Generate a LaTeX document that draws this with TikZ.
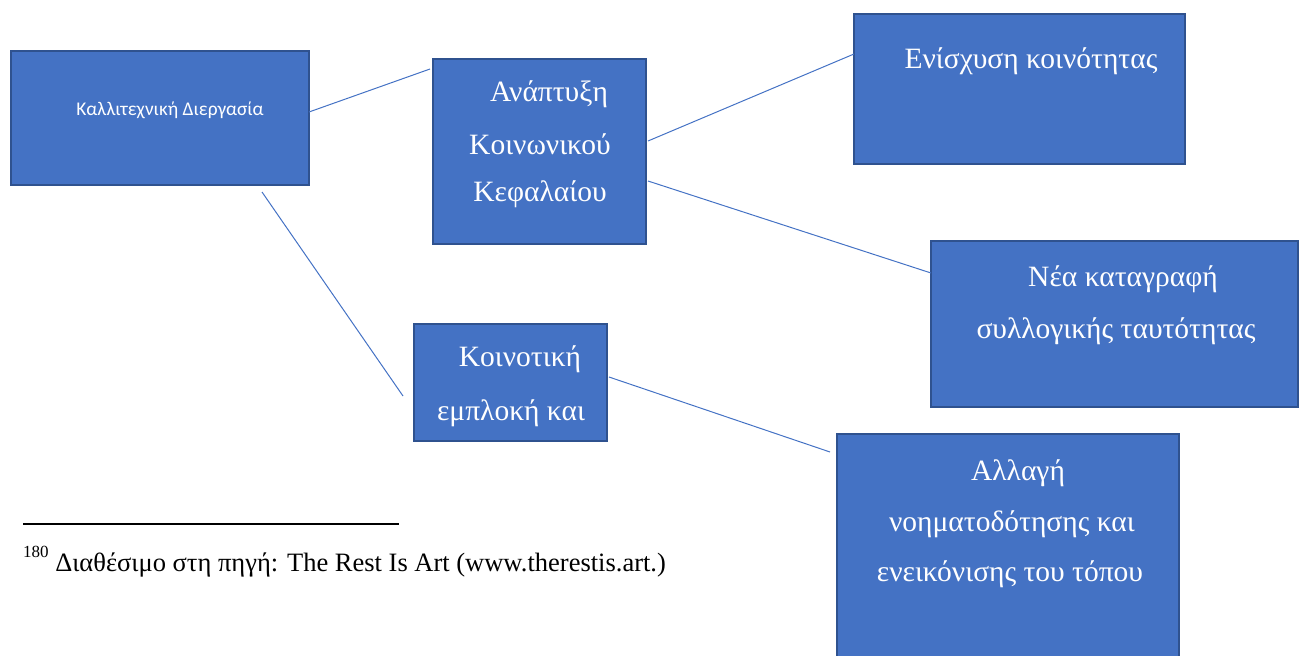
\documentclass[tikz,border=0pt]{standalone}
\usepackage{fontspec}
\setmainfont{Liberation Serif}
\newfontfamily\calfont{Carlito}
\definecolor{boxfill}{HTML}{4472C4}
\definecolor{boxline}{HTML}{2F528F}
\begin{document}
\begin{tikzpicture}[x=1pt,y=-1pt,
  box/.style={draw=boxline,line width=2pt,fill=boxfill,inner sep=0pt,outer sep=0pt},
  lbl/.style={text=white,inner sep=0pt,font=\fontsize{29.5}{34}\selectfont},
  conn/.style={draw=boxfill,line width=1pt}]
\useasboundingbox (0,0) rectangle (1299,656);
% boxes
\node[box,minimum width=298pt,minimum height=134pt] (b1) at (160,118) {};
\node[box,minimum width=213pt,minimum height=185pt] (b2) at (539.5,151.5) {};
\node[box,minimum width=331pt,minimum height=150pt] (b3) at (1019.5,89) {};
\node[box,minimum width=367pt,minimum height=166pt] (b4) at (1114.5,324) {};
\node[box,minimum width=193pt,minimum height=117pt] (b5) at (510.5,382.5) {};
\node[box,minimum width=342pt,minimum height=224pt] (b6) at (1008,546) {};
% labels
\node[lbl,font=\calfont\fontsize{19.4}{22}\selectfont] (t1) at (170,110) {Καλλιτεχνική Διεργασία};
\node[lbl] (t2a) at (549,94) {Ανάπτυξη};
\node[lbl] (t2b) at (540,144) {Κοινωνικού};
\node[lbl] (t2c) at (540,194) {Κεφαλαίου};
\node[lbl] (t3) at (1031,61) {Ενίσχυση κοινότητας};
\node[lbl] (t4a) at (1123,279) {Νέα καταγραφή};
\node[lbl] (t4b) at (1116,331) {συλλογικής ταυτότητας};
\node[lbl] (t5a) at (520,359) {Κοινοτική};
\node[lbl] (t5b) at (511,413) {εμπλοκή και};
\node[lbl] (t6a) at (1018,473) {Αλλαγή};
\node[lbl] (t6b) at (1012,524) {νοηματοδότησης και};
\node[lbl] (t6c) at (1010,574) {ενεικόνισης του τόπου};
% connector ends
\coordinate (c1a) at (309,112); \coordinate (c1b) at (430,69);
\coordinate (c2a) at (262,192); \coordinate (c2b) at (403,396);
\coordinate (c3a) at (648,141); \coordinate (c3b) at (854,54);
\coordinate (c4a) at (648,181); \coordinate (c4b) at (931,273);
\coordinate (c5a) at (609,377); \coordinate (c5b) at (830,452);
\draw[conn] (c1a) -- (c1b);
\draw[conn] (c2a) -- (c2b);
\draw[conn] (c3a) -- (c3b);
\draw[conn] (c4a) -- (c4b);
\draw[conn] (c5a) -- (c5b);
% footnote
\coordinate (r1) at (23,524); \coordinate (r2) at (399,524);
\draw[line width=1.5pt] (r1) -- (r2);
\node[anchor=base west,inner sep=0pt,font=\fontsize{26.5}{30}\selectfont] (fn) at (23,571) {\raisebox{0.5em}{\fontsize{17}{20}\selectfont 180} Διαθέσιμο στη πηγή: The Rest Is Art (www.therestis.art.)};
\end{tikzpicture}
\end{document}
